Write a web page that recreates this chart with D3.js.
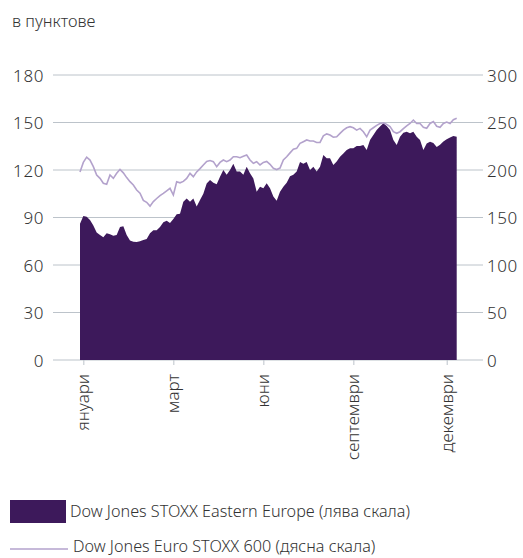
<!DOCTYPE html>
<html lang="bg">
<head>
<meta charset="utf-8">
<script src="https://cdn.jsdelivr.net/npm/d3@7"></script>
<style>
  body { margin: 0; background: #fff; }
  svg text { font-family: "Noto Sans", "Liberation Sans", sans-serif; font-weight: 300; fill: #333; }
</style>
</head>
<body>
<svg id="chart" width="523" height="558" lang="bg"></svg>
<script>
// index values, one per trading-day step
var eastEurope = [86, 91, 90.5, 88.5, 85, 80.5, 79, 77.5, 80, 79.5, 78.5, 79, 84, 84.5, 79, 75.5,
  74.7, 74.5, 75, 75.8, 76.5, 80, 82, 82, 84, 87, 88, 86.5, 89, 92, 92.3, 100, 102, 100, 102, 97,
  101, 105, 111.5, 113.7, 112, 111, 115.8, 120, 117, 120, 124, 119, 119, 117, 122, 118, 114.7,
  106.3, 109.5, 108.4, 111.6, 108.4, 103.2, 100.6, 106.3, 109.5, 112, 116, 117, 119, 125, 124,
  125, 120, 122, 119, 122, 129.5, 127.4, 127.4, 123.2, 125.3, 128.4, 130.5, 132.6, 133.7, 133.7,
  135.2, 135.2, 135.8, 132.6, 139, 142.1, 145.3, 147.4, 149.5, 147.8, 145.3, 139, 135.8, 141,
  143.6, 144.2, 143.2, 144.2, 141, 139, 132.6, 136.8, 137.9, 137, 134.5, 136, 138, 139.5, 140.5,
  141.5, 141];

var stoxx600 = [198, 208, 213.5, 210.5, 203.5, 194.7, 191.2, 186, 185, 194.7, 191.2, 196.5, 200.7,
  197, 192, 187.7, 184.2, 179, 175.5, 168, 166, 162, 166.8, 170, 173, 175.4, 178, 180.7, 173.7,
  187.7, 186.5, 188, 191.2, 196.5, 193, 198, 201.5, 205.3, 209, 210, 208.8, 203.5, 208, 210.5,
  208.8, 210.5, 214, 214, 213, 214.5, 215.8, 210.5, 207, 208.8, 205.3, 208, 209, 206, 201.8,
  200.5, 202, 210.5, 214, 218, 222, 222.8, 228, 229.8, 231.6, 230.5, 230.5, 229, 229, 236, 238,
  236.8, 234.5, 235, 238.6, 242, 244.5, 245.6, 244.5, 242, 243.8, 240.3, 235, 242, 244.5, 247,
  249, 249.7, 248, 245.6, 240.3, 238.6, 240.3, 243.5, 246.5, 249, 252.6, 249, 249, 245, 244,
  249, 251, 246, 245, 249, 250.5, 249, 253, 254.4];

var monthTicks = [1, 28, 55, 82, 110];
var monthLabels = ["януари", "март", "юни", "септември", "декември"];
var leftTicks = [0, 30, 60, 90, 120, 150, 180];
var rightTicks = [0, 50, 100, 150, 200, 250, 300];

var svg = d3.select("#chart");
var gridLeft = 53, gridRight = 483;

var x = d3.scaleLinear().domain([0, eastEurope.length - 1]).range([80, 456.7]);
var yL = d3.scaleLinear().domain([0, 180]).range([360, 75]);
var yR = d3.scaleLinear().domain([0, 300]).range([360, 75]);

svg.append("text").attr("x", 12).attr("y", 27).attr("font-size", 16.5).text("в пунктове");

// gridlines + left labels
leftTicks.forEach(function (t) {
  svg.append("line")
    .attr("x1", gridLeft).attr("x2", gridRight)
    .attr("y1", yL(t)).attr("y2", yL(t))
    .attr("stroke", "#bcc3ca").attr("stroke-width", 1);
});

var leftAxis = svg.append("g").attr("transform", "translate(44,0)")
  .call(d3.axisLeft(yL).tickValues(leftTicks).tickSize(0).tickPadding(0));
leftAxis.select(".domain").remove();
leftAxis.selectAll("text").attr("font-size", 17).attr("font-family", "Liberation Sans")
  .attr("letter-spacing", 0.6).attr("dy", "0.36em");

var rightAxis = svg.append("g").attr("transform", "translate(487,0)")
  .call(d3.axisRight(yR).tickValues(rightTicks).tickSize(0).tickPadding(0));
rightAxis.select(".domain").remove();
rightAxis.selectAll("text").attr("font-size", 17).attr("font-family", "Liberation Sans")
  .attr("letter-spacing", 0.6).attr("dy", "0.36em");

// area series (left scale)
var area = d3.area()
  .x(function (d, i) { return x(i); })
  .y0(yL(0))
  .y1(function (d) { return yL(d); });

svg.append("path").datum(eastEurope)
  .attr("d", area)
  .attr("fill", "#3d195b");

// line series (right scale)
var line = d3.line()
  .x(function (d, i) { return x(i); })
  .y(function (d) { return yR(d); });

svg.append("path").datum(stoxx600)
  .attr("d", line)
  .attr("fill", "none")
  .attr("stroke", "#b3a2cc")
  .attr("stroke-width", 1.6);

// x axis
var xAxis = svg.append("g").attr("transform", "translate(0,360)")
  .call(d3.axisBottom(x).tickValues(monthTicks).tickSize(5).tickPadding(0)
    .tickFormat(function (d, i) { return monthLabels[i]; }));
xAxis.select(".domain").remove();
xAxis.selectAll("line").attr("stroke", "#bcc3ca");
xAxis.selectAll("text")
  .attr("font-size", 17)
  .attr("transform", "rotate(-90)")
  .attr("text-anchor", "end")
  .attr("x", -14).attr("y", 0).attr("dy", "0.33em");

// legend
svg.append("rect").attr("x", 10).attr("y", 500).attr("width", 56).attr("height", 23)
  .attr("fill", "#3d195b");
svg.append("text").attr("x", 70).attr("y", 517).attr("font-size", 16.2)
  .text("Dow Jones STOXX Eastern Europe (лява скала)");
svg.append("line").attr("x1", 10).attr("x2", 68).attr("y1", 549).attr("y2", 549)
  .attr("stroke", "#b3a2cc").attr("stroke-width", 1.6);
svg.append("text").attr("x", 73).attr("y", 552).attr("font-size", 16.2)
  .text("Dow Jones Euro STOXX 600 (дясна скала)");
</script>
</body>
</html>
